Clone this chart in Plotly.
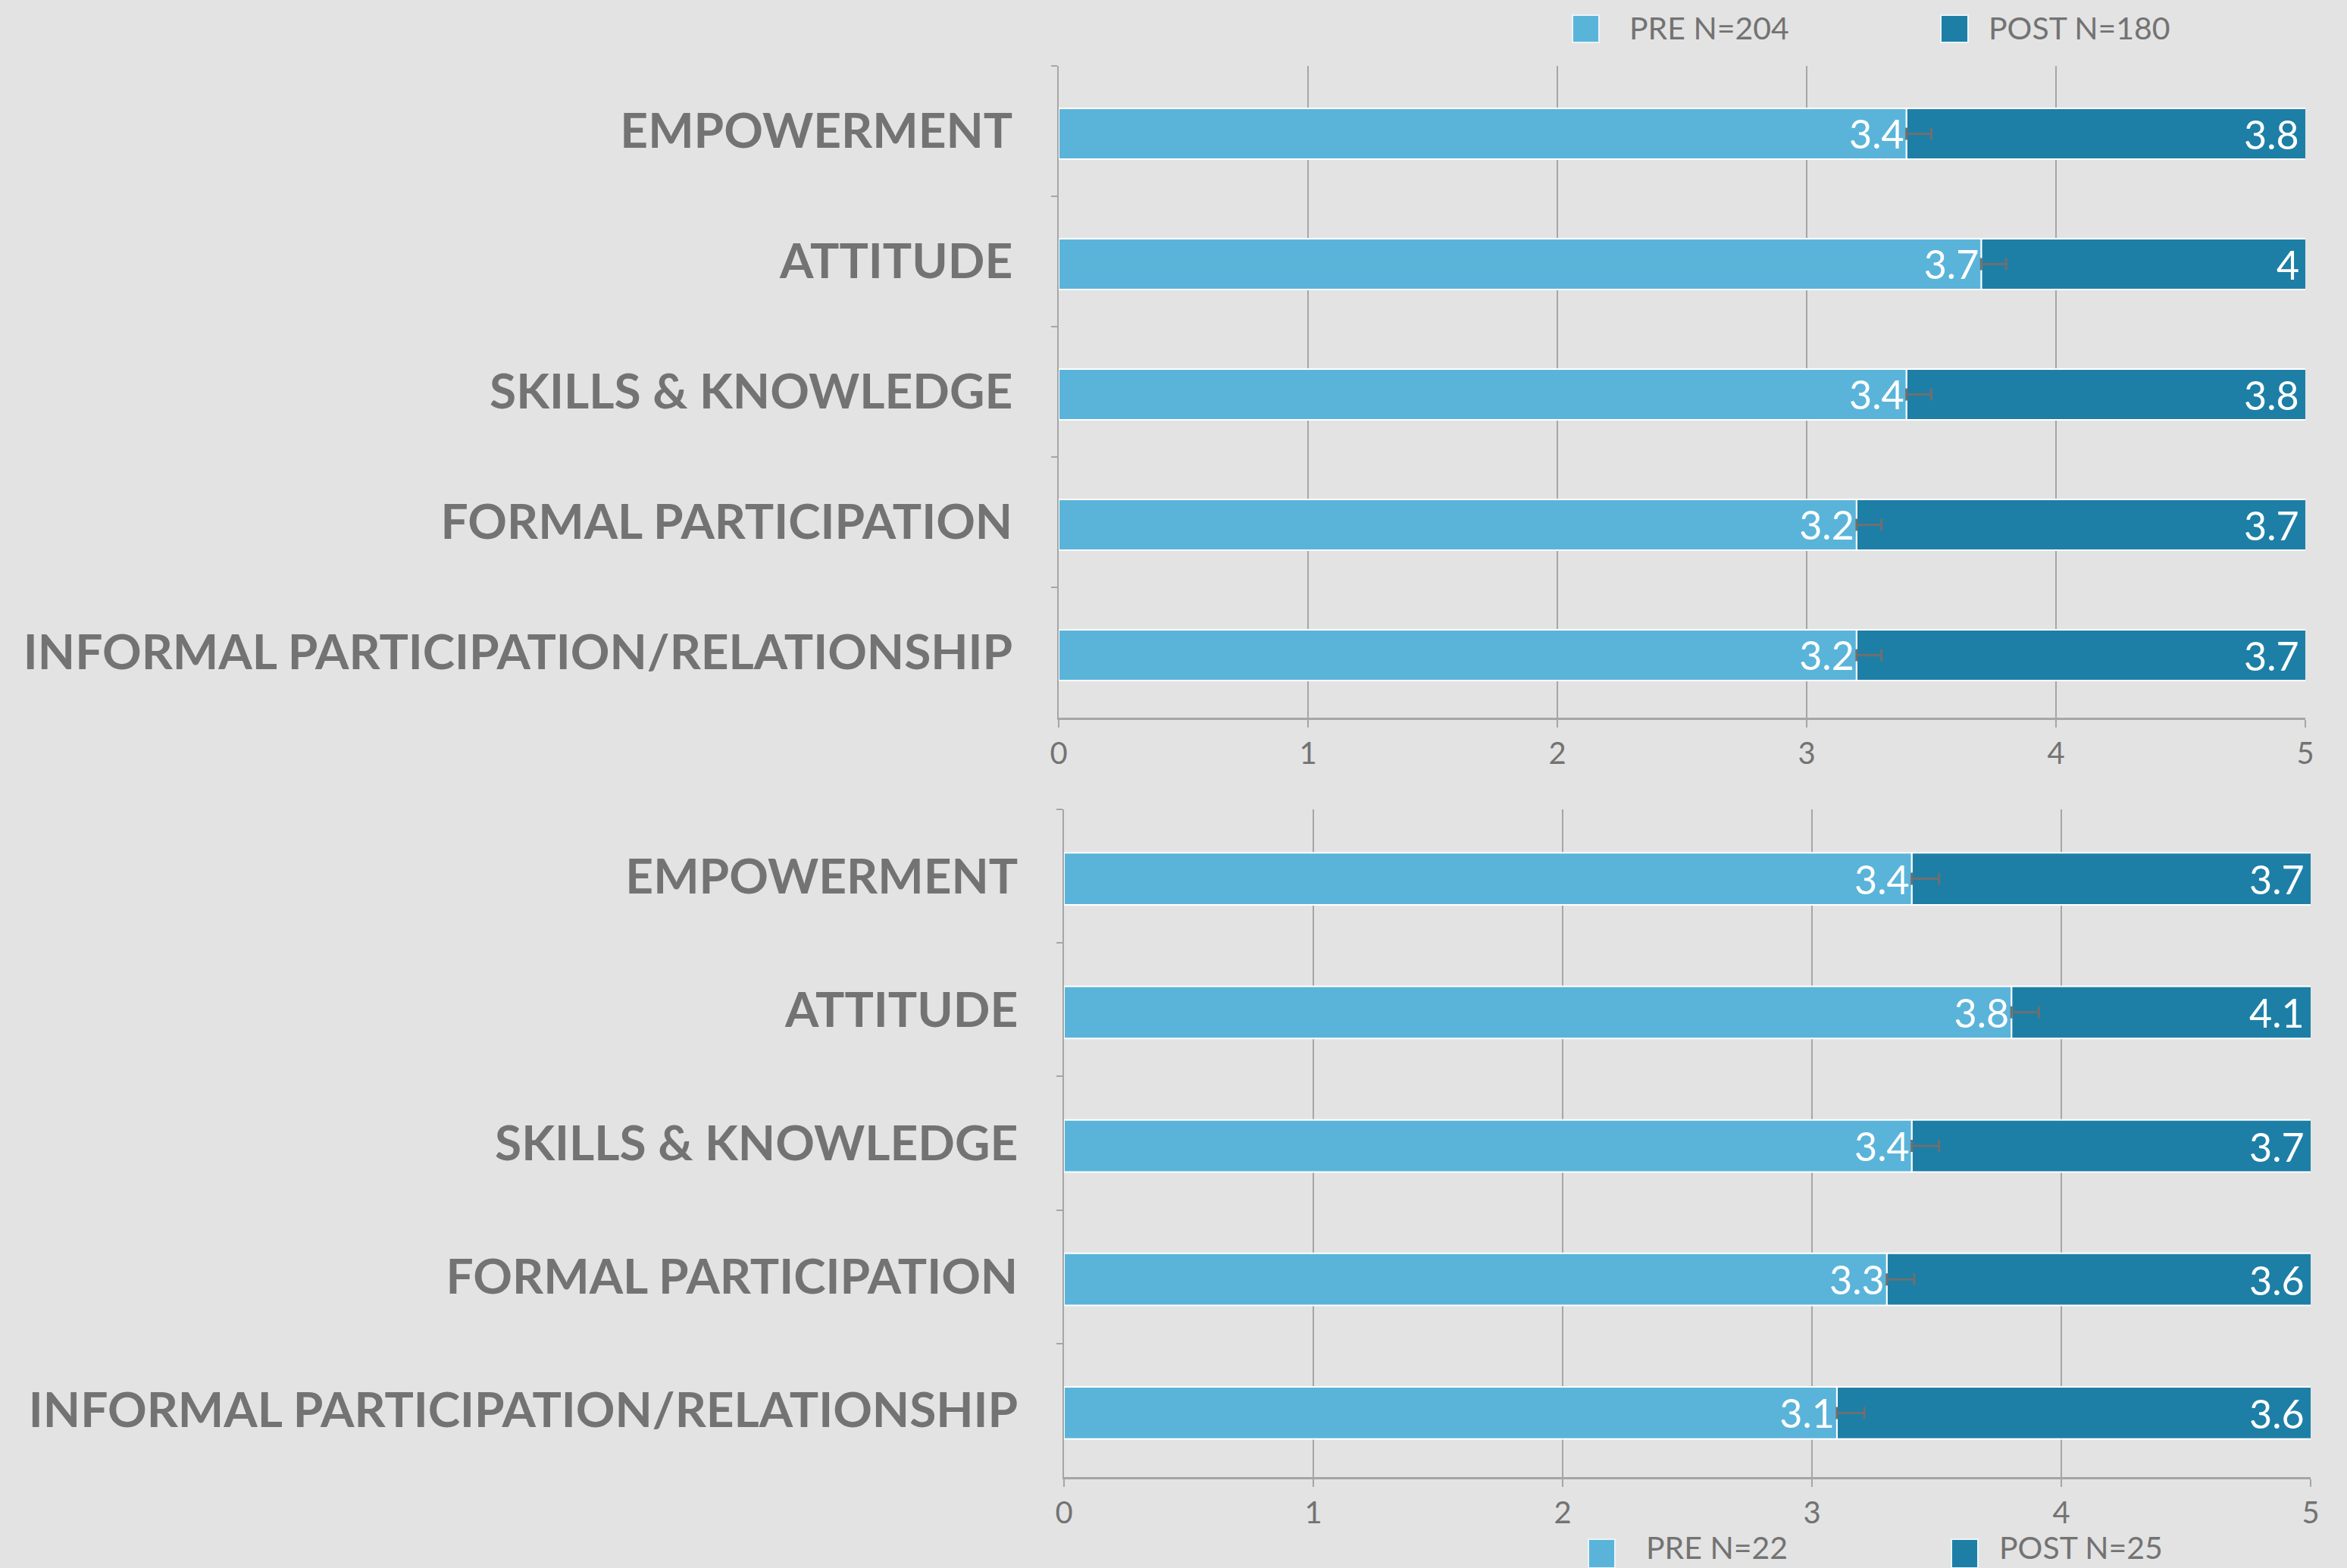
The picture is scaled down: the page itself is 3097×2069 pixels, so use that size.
import plotly.graph_objects as go

# ---- data -------------------------------------------------------------
CATEGORIES = [
    "EMPOWERMENT",
    "ATTITUDE",
    "SKILLS & KNOWLEDGE",
    "FORMAL PARTICIPATION",
    "INFORMAL PARTICIPATION/RELATIONSHIP",
]
X_TICKS = [0, 1, 2, 3, 4, 5]

TOP_SERIES = ["PRE N=204", "POST N=180"]
TOP_PRE = [3.4, 3.7, 3.4, 3.2, 3.2]
TOP_POST = [3.8, 4.0, 3.8, 3.7, 3.7]
TOP_PRE_ERR = [0.1, 0.1, 0.1, 0.1, 0.1]

BOTTOM_SERIES = ["PRE N=22", "POST N=25"]
BOTTOM_PRE = [3.4, 3.8, 3.4, 3.3, 3.1]
BOTTOM_POST = [3.7, 4.1, 3.7, 3.6, 3.6]
BOTTOM_PRE_ERR = [0.11, 0.11, 0.11, 0.11, 0.11]

# ---- style ------------------------------------------------------------
W, H = 3097, 2069
BG = "#E3E3E3"
PRE_COLOR = "#5AB4DA"
POST_COLOR = "#1D7FA6"
GRID = "#A6A6A6"
TEXT = "#737373"
FONT = "Lato"
BAR_WIDTH = 0.39


def fx(p):
    return p / W


def fy(p):
    return 1 - p / H


fig = go.Figure()


def add_panel(pre, post, err, xa, ya):
    # POST segment starts where PRE ends; drawn first so the PRE error bar sits on top
    fig.add_trace(go.Bar(
        y=CATEGORIES, x=post, base=pre, orientation="h",
        width=BAR_WIDTH, offset=-BAR_WIDTH / 2 + 0.02,
        marker=dict(color=POST_COLOR, line=dict(color="white", width=2)),
        showlegend=False, hoverinfo="x+y",
        xaxis=xa, yaxis=ya,
    ))
    fig.add_trace(go.Bar(
        y=CATEGORIES, x=pre, orientation="h",
        width=BAR_WIDTH, offset=-BAR_WIDTH / 2 + 0.02,
        marker=dict(color=PRE_COLOR, line=dict(color="white", width=2)),
        text=[f"{v:g}" for v in pre],
        textposition="inside", insidetextanchor="end",
        constraintext="none", textangle=0,
        textfont=dict(family=FONT, size=52, color="white"),
        error_x=dict(type="data", symmetric=False, array=err,
                     arrayminus=[0] * len(err), color="#6F6F6F",
                     thickness=3, width=8),
        showlegend=False, hoverinfo="x+y",
        xaxis=xa, yaxis=ya,
    ))
    # POST values written at the right end of the visible segment
    for cat, v in zip(CATEGORIES, post):
        fig.add_annotation(
            x=X_TICKS[-1], y=cat, xref=xa, yref=ya,
            text=f"{v:g}", showarrow=False, xanchor="right", yanchor="middle",
            xshift=-6, yshift=-4, font=dict(family=FONT, size=52, color="white"),
        )


add_panel(TOP_PRE, TOP_POST, TOP_PRE_ERR, "x", "y")
add_panel(BOTTOM_PRE, BOTTOM_POST, BOTTOM_PRE_ERR, "x2", "y2")

xaxis_common = dict(
    range=[X_TICKS[0], X_TICKS[-1]], tickvals=X_TICKS,
    showgrid=True, gridcolor=GRID, gridwidth=2,
    showline=True, linecolor=GRID, linewidth=3,
    ticks="outside", ticklen=10, tickcolor=GRID, tickwidth=2,
    tickfont=dict(family=FONT, size=40, color=TEXT),
    zeroline=False, automargin=False, fixedrange=True,
)
yaxis_common = dict(
    type="category", categoryorder="array", categoryarray=CATEGORIES,
    autorange="reversed", tickson="boundaries",
    ticks="outside", ticklen=8, tickcolor=GRID, tickwidth=2,
    showline=True, linecolor=GRID, linewidth=2, showgrid=False,
    tickfont=dict(family=FONT, size=64, color=TEXT, weight="bold"),
    ticklabelstandoff=46, automargin=False, fixedrange=True,
)

fig.update_layout(
    width=W, height=H,
    margin=dict(l=0, r=0, t=0, b=0),
    paper_bgcolor=BG, plot_bgcolor=BG,
    barmode="overlay",
    xaxis=dict(domain=[fx(1397), fx(3042)], anchor="y", **xaxis_common),
    yaxis=dict(domain=[fy(947), fy(87)], anchor="x", **yaxis_common),
    xaxis2=dict(domain=[fx(1404), fx(3049)], anchor="y2", **xaxis_common),
    yaxis2=dict(domain=[fy(1949), fy(1068)], anchor="x2", **yaxis_common),
    showlegend=False,
)

# ---- legends ----------------------------------------------------------
legend_items = [
    # (label, colour, square left, square right, square top, square bottom, text left, text y, anchor)
    (TOP_SERIES[0], PRE_COLOR, 2075, 2110, 20, 56, 2148, 37, "middle"),
    (TOP_SERIES[1], POST_COLOR, 2561, 2597, 20, 56, 2622, 37, "middle"),
    (BOTTOM_SERIES[0], PRE_COLOR, 2096, 2131, 2031, 2069, 2170, 2068, "bottom"),
    (BOTTOM_SERIES[1], POST_COLOR, 2575, 2610, 2031, 2069, 2636, 2068, "bottom"),
]
for label, color, x0, x1, y0, y1, tx, ty, anchor in legend_items:
    fig.add_shape(
        type="rect", xref="paper", yref="paper",
        x0=fx(x0), x1=fx(x1), y0=fy(y1), y1=fy(y0),
        fillcolor=color, line=dict(color="#EAF4F8", width=2),
    )
    fig.add_annotation(
        x=fx(tx), y=fy(ty), xref="paper", yref="paper",
        text=label, showarrow=False, xanchor="left", yanchor=anchor,
        font=dict(family=FONT, size=41, color=TEXT),
    )

fig.write_html("out.html")
